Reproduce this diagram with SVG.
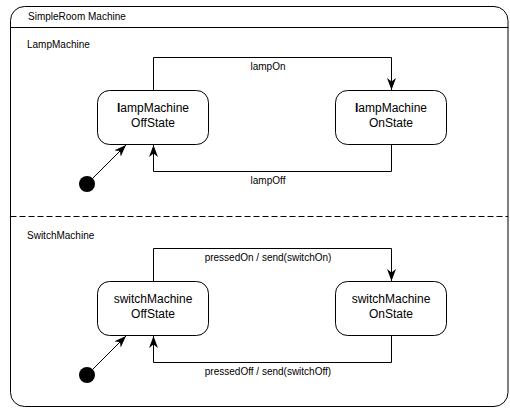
<svg xmlns="http://www.w3.org/2000/svg" width="510" height="408" viewBox="0 0 510 408">
<style>
text{font-family:"Liberation Sans",Arial,sans-serif;fill:#000}
.lbl{font-size:10px}
.nt{font-size:12px;text-anchor:middle}
.st{fill:#fff;stroke:#000;stroke-width:1}
.cn{fill:none;stroke:#000;stroke-width:1}
</style>
<defs>
<marker id="ah" viewBox="0 0 12 9" refX="12" refY="4.5" markerWidth="12" markerHeight="9" markerUnits="userSpaceOnUse" orient="auto">
<path d="M0,0 L12,4.5 L0,9 L3.5,4.5 z" fill="#000"/>
</marker>
</defs>
<rect width="510" height="408" fill="#fff"/>
<g id="frame">
<rect x="10.5" y="6.5" width="497.5" height="400" rx="14" fill="none" stroke="#000"/>
<line x1="10.5" y1="27.5" x2="508" y2="27.5" stroke="#000"/>
<text class="lbl" x="28" y="20">SimpleRoom Machine</text>
<line x1="10.5" y1="216.5" x2="508" y2="216.5" stroke="#000" stroke-dasharray="6 3"/>
<text class="lbl" x="27" y="48">LampMachine</text>
<text class="lbl" x="27" y="239">SwitchMachine</text>
</g>
<g id="lampOff">
<rect class="st" x="97.5" y="90.5" width="111" height="54" rx="12"/>
<text class="nt" x="153" y="112"><tspan font-weight="bold">l</tspan>ampMachine</text>
<text class="nt" x="153" y="127">OffState</text>
</g>
<g id="lampOn">
<rect class="st" x="335.5" y="90.5" width="111" height="54" rx="12"/>
<text class="nt" x="391" y="112"><tspan font-weight="bold">l</tspan>ampMachine</text>
<text class="nt" x="391" y="127">OnState</text>
</g>
<g id="switchOff">
<rect class="st" x="97.5" y="281.5" width="111" height="54" rx="12"/>
<text class="nt" x="153" y="303">switchMachine</text>
<text class="nt" x="153" y="318">OffState</text>
</g>
<g id="switchOn">
<rect class="st" x="335.5" y="281.5" width="111" height="54" rx="12"/>
<text class="nt" x="391" y="303">switchMachine</text>
<text class="nt" x="391" y="318">OnState</text>
</g>
<g id="init1"><circle cx="87" cy="184" r="8" fill="#000"/></g>
<g id="init2"><circle cx="87" cy="375" r="8" fill="#000"/></g>
<g id="connectors">
<path class="cn" d="M153.5,90 V57.5 H391.5 V90" marker-end="url(#ah)"/>
<path class="cn" d="M391.5,145 V171.5 H153.5 V145" marker-end="url(#ah)"/>
<path class="cn" d="M153.5,281 V248.5 H391.5 V281" marker-end="url(#ah)"/>
<path class="cn" d="M391.5,336 V362.5 H153.5 V336" marker-end="url(#ah)"/>
<path class="cn" d="M93,178 L126,145" marker-end="url(#ah)"/>
<path class="cn" d="M93,369 L126,336" marker-end="url(#ah)"/>
<text class="lbl" x="268" y="70" text-anchor="middle">lampOn</text>
<text class="lbl" x="268" y="184" text-anchor="middle">lampOff</text>
<text class="lbl" x="268" y="261" text-anchor="middle">pressedOn / send(switchOn)</text>
<text class="lbl" x="268" y="375" text-anchor="middle">pressedOff / send(switchOff)</text>
</g>
</svg>
